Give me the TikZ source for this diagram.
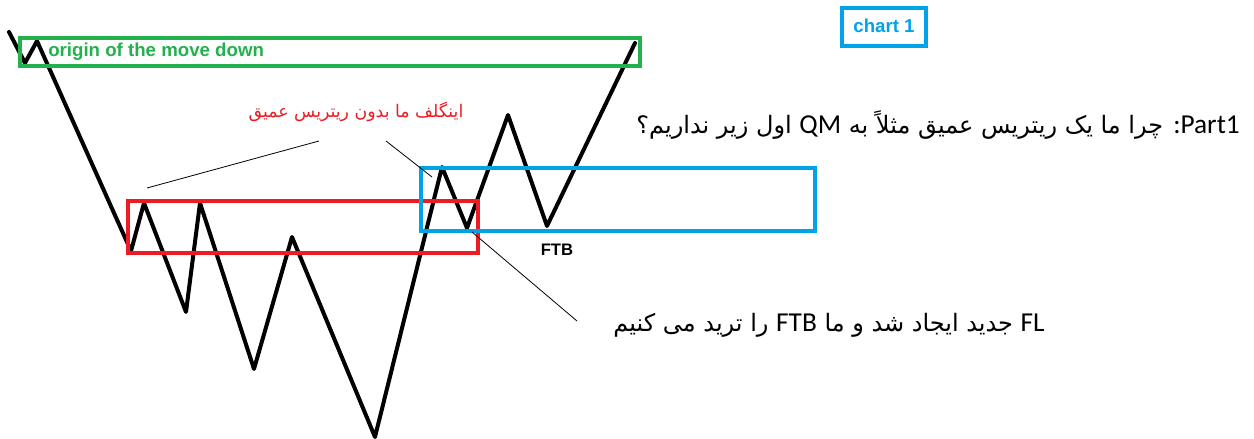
\documentclass[tikz,border=0pt]{standalone}
\usepackage{fontspec}
\usepackage{tikz}
\setmainfont{Liberation Sans}
\newfontfamily\arabicfont[Script=Arabic]{DejaVu Sans}
\newfontfamily\calfont{Carlito}
\newcommand\latinpart[1]{\beginL{\calfont\fontsize{20.5}{22}\selectfont #1}\endL}
\TeXXeTstate=1
\definecolor{paintgreen}{RGB}{34,177,76}
\definecolor{paintred}{RGB}{237,28,36}
\definecolor{paintblue}{RGB}{0,162,232}

\begin{document}
\begin{tikzpicture}[x=0.75pt,y=0.75pt,yscale=-1,xscale=1,
    price/.style={line width=3pt, line join=round, line cap=round},
    zonebox/.style={line width=2.4pt},
    pointer/.style={line width=0.6pt},
    boxlabel/.style={font=\fontsize{14}{16}\selectfont\bfseries, inner sep=0pt},
    farsi/.style={font=\fontsize{18}{22}\selectfont\arabicfont, inner sep=0pt}]
\useasboundingbox (0,0) rectangle (1254,439);

% price path
\coordinate (ftbLow) at (547,226);
\draw [price] (9,32) -- (25,63) -- (37,41) -- (131,251) -- (144,203) -- (186,312)
    -- (200,203) -- (254,369) -- (292,237) -- (375,437) -- (442,167) -- (467,228)
    -- (508,115) -- (ftbLow) -- (635,43);

% zones
\draw [zonebox, paintgreen] (20,38) rectangle (640,66);
\draw [zonebox, paintred] (128,201) rectangle (478,253);
\draw [zonebox, paintblue] (421,168) rectangle (815,231);
\draw [zonebox, paintblue] (842,8) rectangle (926,46);

% labels
\node [boxlabel, text=paintgreen, anchor=west] (origin) at (48,52) {origin of the move down};
\node [boxlabel, text=paintblue] (chart) at (884,26) {chart 1};
\node [font=\fontsize{12.5}{14}\selectfont\bfseries, inner sep=0pt] (ftb) at (557,250) {FTB};

\node [farsi, text=paintred, font=\fontsize{13}{16}\selectfont\arabicfont] (engulf) at (356,112)
    {\beginR اینگلف ما بدون ریتریس عمیق\endR};
\node [farsi, anchor=east] (question) at (1240,125)
    {\beginR\latinpart{Part1}\latinpart{:} چرا ما یک ریتریس عمیق مثلاً به \latinpart{QM} اول زیر نداریم؟\endR};
\node [farsi, anchor=east] (newfl) at (1045,325)
    {\beginR\latinpart{FL} جدید ایجاد شد و ما \latinpart{FTB} را ترید می کنیم\endR};

% pointers
\coordinate (p1a) at (147,188);
\coordinate (p1b) at (319,141);
\coordinate (p2a) at (386,141);
\coordinate (p2b) at (432,177);
\coordinate (p3a) at (472,232);
\coordinate (p3b) at (577,321);
\draw [pointer] (p1a) -- (p1b);
\draw [pointer] (p2a) -- (p2b);
\draw [pointer] (p3a) -- (p3b);

\end{tikzpicture}
\end{document}
